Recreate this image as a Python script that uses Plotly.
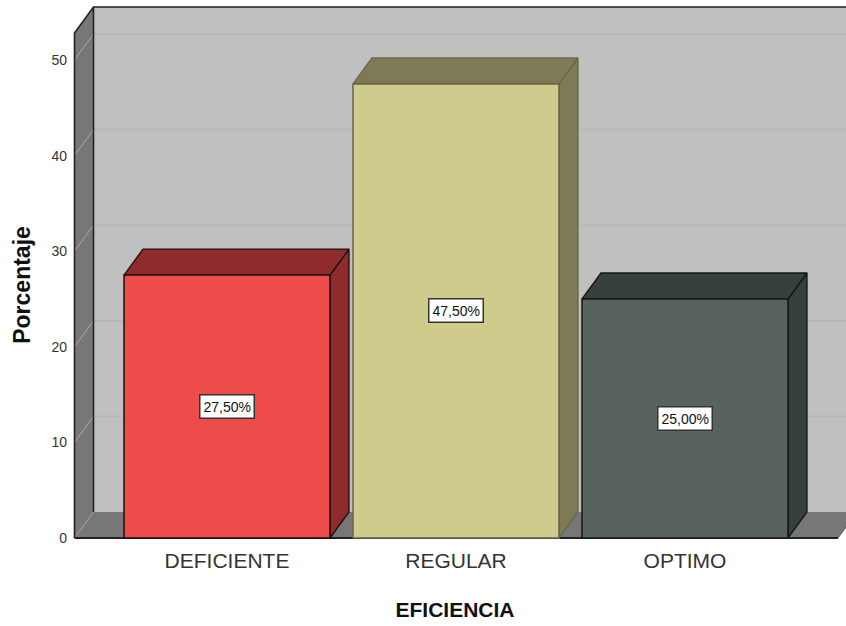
import plotly.graph_objects as go

# Data
categories = ["DEFICIENTE", "REGULAR", "OPTIMO"]
values = [27.5, 47.5, 25.0]
y_ticks = [0, 10, 20, 30, 40, 50]
front_colors = ["#EE4B4B", "#CFCB8D", "#586360"]
side_colors = ["#8F2B2C", "#7D7A55", "#37403C"]
top_colors = ["#8F2B2C", "#7D7A55", "#37403C"]
edge_colors = ["#1A1010", "#66664A", "#141816"]

# Pixel calibration of the picture
PX_X0, PX_STEP = 227.0, 229.0
PX_Y0, PX_UNIT = 538.0, 9.56
W, H = 846, 626
PLOT_L, PLOT_T, PLOT_B = 64, 4, 566
AXIS_X_PX, AXIS_Y_PX = 67, 546

BAR_W = 206 / PX_STEP
DX = 19 / PX_STEP
DY = 26 / PX_UNIT
WALL_L = (74.5 - PX_X0) / PX_STEP
WALL_R = (838 - PX_X0) / PX_STEP
WALL_TOP = 50 + (60 - 33) / PX_UNIT

x_range = [(PLOT_L - PX_X0) / PX_STEP, (W - PX_X0) / PX_STEP]
y_range = [(PX_Y0 - PLOT_B) / PX_UNIT, (PX_Y0 - PLOT_T) / PX_UNIT]

fig = go.Figure()


def poly(xs, ys, fill, line=None, width=1.0):
    fig.add_trace(go.Scatter(
        x=xs + xs[:1], y=ys + ys[:1], mode="lines", fill="toself", fillcolor=fill,
        line=dict(color=line or fill, width=width if line else 0),
        hoverinfo="skip", showlegend=False))


def seg(xs, ys, color, width=1.0):
    fig.add_trace(go.Scatter(x=xs, y=ys, mode="lines", line=dict(color=color, width=width),
                             hoverinfo="skip", showlegend=False))


# Back wall, side wall, floor
poly([WALL_L + DX, WALL_R + DX, WALL_R + DX, WALL_L + DX],
     [DY, DY, WALL_TOP + DY, WALL_TOP + DY], "#C0C0C0")
poly([WALL_L, WALL_L + DX, WALL_L + DX, WALL_L],
     [0, DY, WALL_TOP + DY, WALL_TOP], "#777777")
poly([WALL_L, WALL_R, WALL_R + DX, WALL_L + DX], [0, 0, DY, DY], "#777777")

# Gridlines on the walls
for t in y_ticks[1:]:
    seg([WALL_L + DX, WALL_R + DX], [t + DY, t + DY], "#B8B8B8", 2)
    seg([WALL_L, WALL_L + DX], [t, t + DY], "#A8A8A8", 1)
seg([WALL_L, WALL_L + DX], [0, DY], "#A0A0A0", 1)

# Wall edges
seg([WALL_L, WALL_L, WALL_L + DX, WALL_R + DX], [0, WALL_TOP, WALL_TOP + DY, WALL_TOP + DY], "#222222", 1.6)
seg([WALL_L + DX, WALL_L + DX], [DY, WALL_TOP + DY], "#222222", 1.6)
seg([WALL_L, WALL_R], [0, 0], "#222222", 1.8)
seg([WALL_R, WALL_R + DX], [0, DY], "#555555", 1)

# Bars
for i, v in enumerate(values):
    l, r = i - BAR_W / 2, i + BAR_W / 2
    poly([r, r + DX, r + DX, r], [0, DY, v + DY, v], side_colors[i], edge_colors[i], 1.3)
    poly([l, r, r + DX, l + DX], [v, v, v + DY, v + DY], top_colors[i], edge_colors[i], 1.3)
    poly([l, r, r, l], [0, 0, v, v], front_colors[i], edge_colors[i], 1.5)

# Value labels
for i, v in enumerate(values):
    fig.add_annotation(x=i, y=v / 2, text=f"{v:.2f}".replace(".", ",") + "%", showarrow=False,
                       font=dict(family="Liberation Sans", size=14, color="#111111"),
                       bgcolor="#FFFFFF", bordercolor="#333333", borderwidth=1.5, borderpad=3)

fig.update_layout(
    width=W, height=H, paper_bgcolor="#FFFFFF", plot_bgcolor="#FFFFFF",
    margin=dict(l=PLOT_L, r=0, t=PLOT_T, b=H - PLOT_B, pad=0),
    showlegend=False,
    font=dict(family="Liberation Sans", color="#333333"),
    xaxis=dict(range=x_range, tickmode="array", tickvals=list(range(len(categories))),
               ticktext=categories, showgrid=False, zeroline=False, showline=False, ticks="",
               anchor="free", position=(PLOT_B - AXIS_Y_PX) / (PLOT_B - PLOT_T),
               tickfont=dict(size=21, color="#333333"),
               title=dict(text="<b>EFICIENCIA</b>", font=dict(size=21, color="#111111"), standoff=31)),
    yaxis=dict(range=y_range, tickmode="array", tickvals=y_ticks, showgrid=False, zeroline=False,
               showline=False, ticks="", anchor="free", position=(AXIS_X_PX - PLOT_L) / (W - PLOT_L),
               tickfont=dict(size=14, color="#333333"),
               title=dict(text="<b>Porcentaje</b>", font=dict(size=23, color="#111111"), standoff=13)),
)

fig.write_html("out.html", config=dict(displayModeBar=False),
               post_script="document.body.style.margin='0';document.body.style.overflow='hidden';")
